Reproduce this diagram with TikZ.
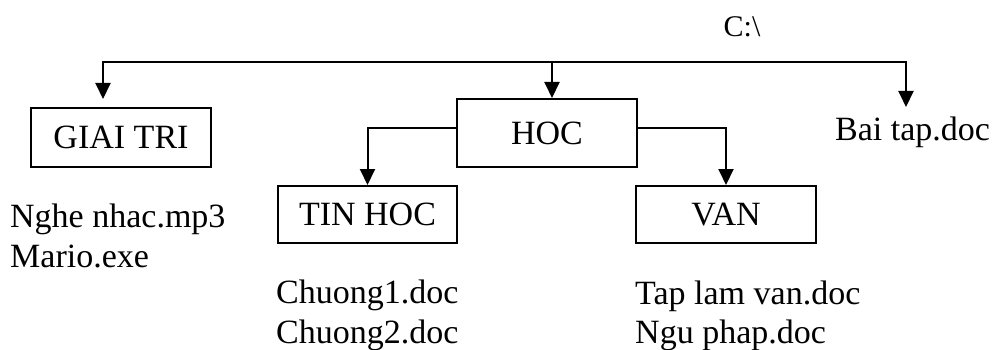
\documentclass[tikz,border=0pt]{standalone}
\usepackage{fontspec}
\setmainfont{Liberation Serif}
\usetikzlibrary{arrows.meta}
\begin{document}
\begin{tikzpicture}[x=1pt,y=-1pt,
  every node/.style={font=\fontsize{34}{40}\selectfont, inner sep=0pt},
  box/.style={draw, line width=2pt, minimum width=180pt, minimum height=58pt},
  conn/.style={line width=2pt},
  arr/.style={conn, -{Triangle[width=15pt,length=16pt]}}]
\useasboundingbox (0,0) rectangle (995,350);
% root label
\node[font=\fontsize{30}{36}\selectfont, anchor=base] (root) at (742,37) {C:\textbackslash};
% folders
\node[box, minimum height=59pt] (giai) at (121,137.5) {GIAI TRI};
\node[box, minimum height=68pt] (hoc) at (547,133) {HOC};
\node[box, minimum height=57pt, minimum width=179pt] (tin) at (367.5,214.5) {TIN HOC};
\node[box, minimum height=57pt] (van) at (726,214.5) {VAN};
% files
\node[anchor=base west] (bai) at (835,140) {Bai tap.doc};
\node[anchor=base west] (nghe) at (10,227) {Nghe nhac.mp3};
\node[anchor=base west] (mario) at (10,267) {Mario.exe};
\node[anchor=base west] (ch1) at (276,303) {Chuong1.doc};
\node[anchor=base west] (ch2) at (276,343) {Chuong2.doc};
\node[anchor=base west] (tap) at (635,304) {Tap lam van.doc};
\node[anchor=base west] (ngu) at (635,343) {Ngu phap.doc};
% connectors
\coordinate (busM) at (552,62);
\coordinate (tipG) at (103,99);
\coordinate (tipB) at (906,107);
\draw[arr] (busM) -| (tipG);
\draw[arr] (busM) -| (tipB);
\draw[arr] (busM) -- (busM |- hoc.north);
\draw[arr] ([yshift=5pt]hoc.west) -| (tin.north);
\draw[arr] ([yshift=5pt]hoc.east) -| (van.north);
\end{tikzpicture}
\end{document}
